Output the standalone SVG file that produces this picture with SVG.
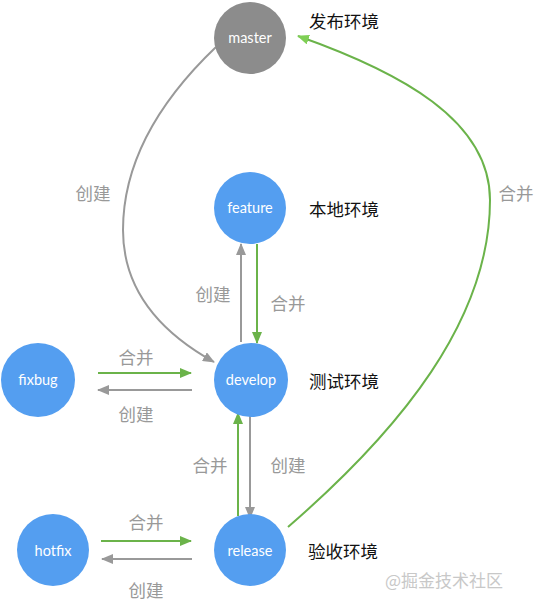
<svg xmlns="http://www.w3.org/2000/svg" width="542" height="608" viewBox="0 0 542 608">
<style>
.node{fill:#549ef0}
.master{fill:#8c8c8c}
.nt{font-family:Lato,"Open Sans",sans-serif;font-size:14.5px;fill:#fff;text-anchor:middle;dominant-baseline:central}
.env{font-family:"Noto Sans CJK SC",sans-serif;font-size:17.5px;fill:#111;dominant-baseline:central}
.lbl{font-family:"Noto Sans CJK SC",sans-serif;font-size:17.5px;fill:#999;text-anchor:middle;dominant-baseline:central}
.g{stroke:#6bb34a;stroke-width:2;fill:none}
.k{stroke:#999;stroke-width:2;fill:none}
.wm{font-family:"Noto Sans CJK SC",sans-serif;font-size:17px;fill:#c8c8c8}
</style>
<defs>
<marker id="ag" markerUnits="userSpaceOnUse" markerWidth="12" markerHeight="10" refX="11" refY="5" orient="auto"><path d="M0,0 L12,5 L0,10 z" fill="#6bb34a"/></marker>
<marker id="ak" markerUnits="userSpaceOnUse" markerWidth="12" markerHeight="10" refX="11" refY="5" orient="auto"><path d="M0,0 L12,5 L0,10 z" fill="#999"/></marker>
<marker id="agl" markerUnits="userSpaceOnUse" markerWidth="12" markerHeight="10" refX="11" refY="5" orient="auto"><path d="M0,0 L12,5 L0,10 z" fill="#7fcf55"/></marker>
</defs>
<g id="connectors">
<path class="k" d="M216 47 C150 110,123 170,123 230 C123 290,160 332,214 362" marker-end="url(#ak)"/>
<path class="g" d="M288 527 C400 430,490 320,490 200 C490 120,400 72,298 36" marker-end="url(#agl)"/>
<line class="k" x1="241" y1="342" x2="241" y2="244" marker-end="url(#ak)"/>
<line class="g" x1="257" y1="244" x2="257" y2="343" marker-end="url(#ag)"/>
<line class="g" x1="98" y1="373" x2="191" y2="373" marker-end="url(#ag)"/>
<line class="k" x1="192" y1="390" x2="98" y2="390" marker-end="url(#ak)"/>
<line class="g" x1="238" y1="516" x2="238" y2="413" marker-end="url(#ag)"/>
<line class="k" x1="250" y1="416" x2="250" y2="518" marker-end="url(#ak)"/>
<line class="g" x1="101" y1="541" x2="191" y2="541" marker-end="url(#ag)"/>
<line class="k" x1="192" y1="559" x2="102" y2="559" marker-end="url(#ak)"/>
<text class="lbl" x="93" y="192">创建</text>
<text class="lbl" x="516" y="192">合并</text>
<text class="lbl" x="213" y="293">创建</text>
<text class="lbl" x="288" y="302">合并</text>
<text class="lbl" x="136" y="356">合并</text>
<text class="lbl" x="136" y="413">创建</text>
<text class="lbl" x="210" y="464">合并</text>
<text class="lbl" x="288" y="464">创建</text>
<text class="lbl" x="146" y="521">合并</text>
<text class="lbl" x="146" y="589">创建</text>
</g>
<g id="master"><circle class="master" cx="250" cy="38" r="36"/><text class="nt" x="250" y="37">master</text><text class="env" x="309" y="20">发布环境</text></g>
<g id="feature"><circle class="node" cx="250" cy="208" r="36"/><text class="nt" x="250" y="207">feature</text><text class="env" x="309" y="208">本地环境</text></g>
<g id="develop"><circle class="node" cx="251" cy="380" r="37"/><text class="nt" x="251" y="379">develop</text><text class="env" x="309" y="380">测试环境</text></g>
<g id="fixbug"><circle class="node" cx="38" cy="380" r="37"/><text class="nt" x="38" y="379">fixbug</text></g>
<g id="hotfix"><circle class="node" cx="53" cy="550" r="36"/><text class="nt" x="53" y="550">hotfix</text></g>
<g id="release"><circle class="node" cx="250" cy="550" r="36"/><text class="nt" x="250" y="550">release</text><text class="env" x="308" y="550">验收环境</text></g>
<text class="wm" x="385" y="587">@掘金技术社区</text>
</svg>
